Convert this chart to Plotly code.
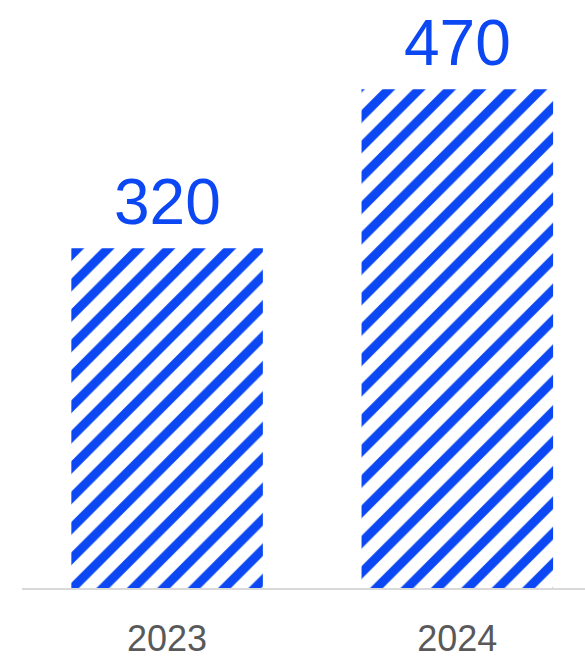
import plotly.graph_objects as go

years = ["2023", "2024"]
values = [320, 470]

BLUE = "#0B47F2"
GRAY = "#595959"

fig = go.Figure()
fig.add_trace(go.Bar(
    x=years,
    y=values,
    width=0.66,
    marker=dict(
        color="white",
        line=dict(width=0),
        pattern=dict(shape="/", fgcolor=BLUE, fgopacity=1, bgcolor="white",
                     size=21.5, solidity=0.42, fillmode="replace"),
    ),
    hoverinfo="skip",
))

for i, v in enumerate(values):
    fig.add_annotation(
        x=i, y=v, xref="x", yref="y", text=str(v), showarrow=False,
        yanchor="bottom", yshift=8,
        font=dict(family="Liberation Sans, Arial", size=64, color=BLUE),
    )

fig.update_layout(
    width=585, height=659,
    margin=dict(l=22, r=0, t=0, b=67),
    paper_bgcolor="white", plot_bgcolor="white",
    showlegend=False,
    xaxis=dict(
        type="category", range=[-0.5, 1.44],
        showline=True, linecolor="#D9D9D9", linewidth=2,
        showgrid=False, ticks="", zeroline=False,
        tickfont=dict(family="Liberation Sans, Arial", size=36, color=GRAY),
        ticklabelstandoff=18,
    ),
    yaxis=dict(
        range=[0, 554], visible=False, showgrid=False, zeroline=False,
    ),
)

fig.write_html("out.html")
